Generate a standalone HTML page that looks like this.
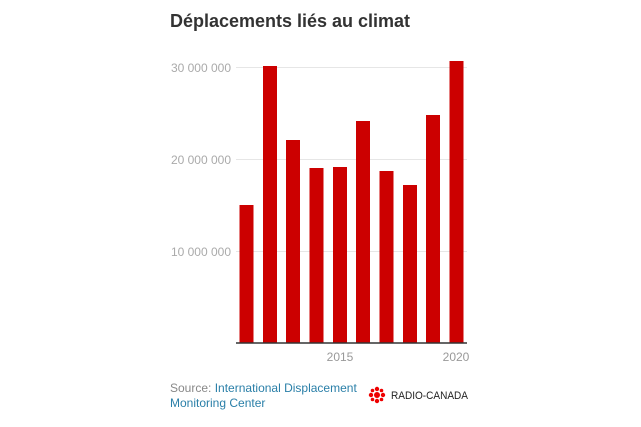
<!DOCTYPE html>
<html><head><meta charset="utf-8"><style>
body{margin:0;width:641px;height:427px;background:#fff;overflow:hidden;font-family:"Liberation Sans",sans-serif}
</style></head><body>
<svg width="641" height="427" xmlns="http://www.w3.org/2000/svg" style="position:absolute;left:0;top:0">
<text x="170" y="27" font-size="18" font-weight="bold" fill="#333" textLength="240" lengthAdjust="spacingAndGlyphs">Déplacements liés au climat</text>
<g stroke="#e6e6e6" stroke-width="1">
<line x1="236" y1="67.5" x2="467" y2="67.5"/>
<line x1="236" y1="159.5" x2="467" y2="159.5"/>
<line x1="236" y1="251.5" x2="467" y2="251.5"/>
</g>
<g font-size="12" fill="#aaa" text-anchor="end">
<text x="231" y="72">30 000 000</text>
<text x="231" y="164">20 000 000</text>
<text x="231" y="256">10 000 000</text>
</g>
<g fill="#cc0000">
<rect x="239.5" y="205" width="14" height="138"/>
<rect x="263" y="66" width="14" height="277"/>
<rect x="286" y="140" width="14" height="203"/>
<rect x="309.5" y="168" width="14" height="175"/>
<rect x="333" y="167" width="14" height="176"/>
<rect x="356" y="121" width="14" height="222"/>
<rect x="379.5" y="171" width="14" height="172"/>
<rect x="403" y="185" width="14" height="158"/>
<rect x="426" y="115" width="14" height="228"/>
<rect x="449.5" y="61" width="14" height="282"/>
</g>
<line x1="236" y1="343" x2="467" y2="343" stroke="#333" stroke-width="1.5"/>
<g font-size="12" fill="#999" text-anchor="middle">
<text x="340" y="361">2015</text>
<text x="456" y="361">2020</text>
</g>
<text x="170" y="392" font-size="12" fill="#888">Source: <tspan fill="#2a7fa8">International Displacement</tspan></text>
<text x="170" y="407" font-size="12" fill="#2a7fa8">Monitoring Center</text>
<g transform="translate(377,395)" fill="#e00">
<circle r="3"/>
<circle cx="0" cy="-6" r="2.2"/><circle cx="0" cy="6" r="2.2"/>
<circle cx="-6" cy="0" r="2.2"/><circle cx="6" cy="0" r="2.2"/>
<circle cx="-4.5" cy="-4.5" r="1.8"/><circle cx="4.5" cy="-4.5" r="1.8"/>
<circle cx="-4.5" cy="4.5" r="1.8"/><circle cx="4.5" cy="4.5" r="1.8"/>
</g>
<text x="391" y="399" font-size="11" fill="#222" textLength="77" lengthAdjust="spacingAndGlyphs">RADIO-CANADA</text>
</svg>
</body></html>
